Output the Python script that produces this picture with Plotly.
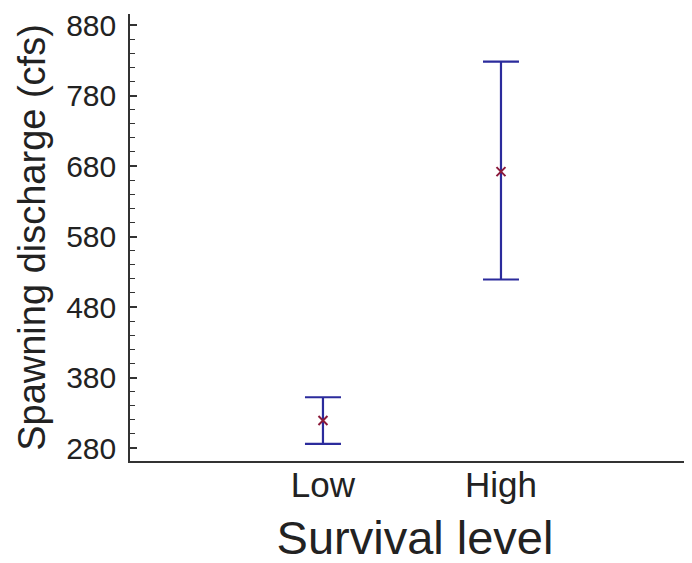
import plotly.graph_objects as go

# survival level categories and spawning discharge (cfs)
levels = ["Low", "High"]
level_pos = [1, 2]
mean_q = [319, 672]
upper_q = [352, 828]
lower_q = [286, 519]

err_plus = [u - m for u, m in zip(upper_q, mean_q)]
err_minus = [m - l for m, l in zip(mean_q, lower_q)]

FONT = "Liberation Sans, Arial, Helvetica"

fig = go.Figure()

fig.add_trace(go.Scatter(
    x=level_pos,
    y=mean_q,
    mode="markers",
    marker=dict(symbol="x-thin", size=9, color="#8b1a3a",
                line=dict(width=2, color="#8b1a3a")),
    error_y=dict(type="data", symmetric=False,
                 array=err_plus, arrayminus=err_minus,
                 color="#2b2b9c", thickness=2.2, width=18),
    showlegend=False,
))

fig.update_xaxes(
    range=[-0.084, 3.118],
    tickvals=level_pos,
    ticktext=levels,
    ticks="",
    ticklabelstandoff=-8,
    showgrid=False,
    zeroline=False,
    showline=True,
    linecolor="#333333",
    linewidth=1.5,
    tickfont=dict(family=FONT, size=35, color="#222"),
    title=dict(text="Survival level", standoff=18,
               font=dict(family=FONT, size=47, color="#222")),
)

fig.update_yaxes(
    range=[261.6, 895.6],
    tickvals=[280, 380, 480, 580, 680, 780, 880],
    ticks="inside",
    ticklen=7,
    tickwidth=1.5,
    tickcolor="#333333",
    ticklabelstandoff=6,
    minor=dict(ticks="inside", dtick=20, tick0=280, ticklen=5,
               tickwidth=1, tickcolor="#333333"),
    showgrid=False,
    zeroline=False,
    showline=True,
    linecolor="#333333",
    linewidth=1.5,
    tickfont=dict(family=FONT, size=30, color="#222"),
    title=dict(text="Spawning discharge (cfs)", standoff=9,
               font=dict(family=FONT, size=38, color="#222")),
)

# page body adds an 8px offset, so margins are shifted to compensate
fig.update_layout(
    width=692,
    height=563,
    margin=dict(l=122, r=0, t=6, b=110),
    paper_bgcolor="white",
    plot_bgcolor="white",
)

fig.write_html("out.html")
